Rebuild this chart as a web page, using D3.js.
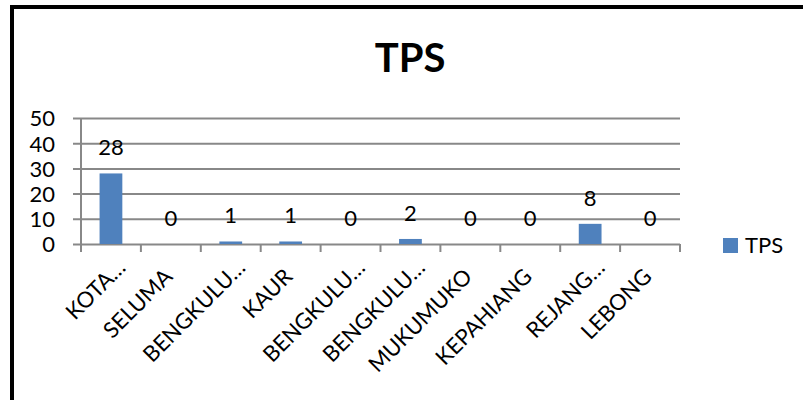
<!DOCTYPE html>
<html>
<head>
<meta charset="utf-8">
<script src="https://cdn.jsdelivr.net/npm/d3@7"></script>
<style>
  body { margin: 0; background: #fff; }
  text { font-family: Lato, "Open Sans", sans-serif; fill: #000; }
</style>
</head>
<body>
<script>
// chart values
var categories = ["KOTA…", "SELUMA", "BENGKULU…", "KAUR", "BENGKULU…",
    "BENGKULU…", "MUKUMUKO", "KEPAHIANG", "REJANG…", "LEBONG"];
var tpsValues = [28, 0, 1, 1, 0, 2, 0, 0, 8, 0];
var yTicks = [0, 10, 20, 30, 40, 50];
var seriesName = "TPS";

var width = 803, height = 400;
var plot = { left: 81, right: 680, top: 118, bottom: 244 };
var fontSize = "22px";

var svg = d3.select("body").append("svg")
    .attr("width", width)
    .attr("height", height);

svg.append("rect").attr("width", width).attr("height", height).attr("fill", "#fff");

// outer frame (only left and top show in the crop)
svg.append("path")
    .attr("d", "M12,400 V7 H803")
    .attr("fill", "none")
    .attr("stroke", "#000")
    .attr("stroke-width", 4);

var x = d3.scaleBand()
    .domain(categories.map(function (d, i) { return i; }))
    .range([plot.left, plot.right])
    .paddingInner(0.62)
    .paddingOuter(0.31);

var xTicks = d3.scaleLinear().domain([0, categories.length]).range([plot.left, plot.right]);

var y = d3.scaleLinear().domain([0, 50]).range([plot.bottom, plot.top]);

// title
svg.append("text")
    .attr("x", 410)
    .attr("y", 72)
    .attr("text-anchor", "middle")
    .style("font-size", "40px")
    .style("font-weight", "bold")
    .text(seriesName);

// gridlines + y axis
var yAxis = svg.append("g")
    .attr("transform", "translate(" + plot.left + ",0)")
    .call(d3.axisLeft(y).tickValues(yTicks)
        .tickSize(-(plot.right - plot.left))
        .tickPadding(0));
yAxis.select(".domain").remove();
yAxis.selectAll(".tick line")
    .attr("x1", -8)
    .attr("stroke", "#888")
    .attr("stroke-width", 2);
yAxis.selectAll(".tick text")
    .attr("x", -26)
    .attr("dy", "0.36em")
    .style("font-size", fontSize)
    .style("font-family", "Lato, sans-serif");

// vertical axis line
svg.append("line")
    .attr("x1", plot.left).attr("x2", plot.left)
    .attr("y1", plot.top).attr("y2", plot.bottom)
    .attr("stroke", "#888").attr("stroke-width", 2);

// category ticks on x axis
svg.append("g").selectAll("line")
    .data(d3.range(categories.length + 1))
    .join("line")
    .attr("x1", function (d) { return xTicks(d); })
    .attr("x2", function (d) { return xTicks(d); })
    .attr("y1", plot.bottom)
    .attr("y2", plot.bottom + 8)
    .attr("stroke", "#888").attr("stroke-width", 2);

// bars
svg.append("g").selectAll("rect")
    .data(tpsValues)
    .join("rect")
    .attr("x", function (d, i) { return x(i); })
    .attr("width", x.bandwidth())
    .attr("y", function (d) { return y(d); })
    .attr("height", function (d) { return y(0) - y(d); })
    .attr("fill", "#4F81BD");

// data labels
svg.append("g").selectAll("text")
    .data(tpsValues)
    .join("text")
    .attr("x", function (d, i) { return x(i) + x.bandwidth() / 2; })
    .attr("y", function (d) { return y(d) - 18; })
    .attr("text-anchor", "middle")
    .style("font-size", fontSize)
    .text(function (d) { return d; });

// rotated category labels (truncated ones sit a bit further along)
svg.append("g").selectAll("text")
    .data(categories)
    .join("text")
    .attr("text-anchor", "end")
    .attr("transform", function (d, i) {
        var cx = x(i) + x.bandwidth() / 2;
        var cut = d.slice(-1) === "…";
        var dx = cut ? 16 : 3, dy = cut ? 25 : 34;
        return "translate(" + (cx + dx) + "," + (plot.bottom + dy) + ") rotate(-45)";
    })
    .style("font-size", fontSize)
    .text(function (d) { return d; });

// legend
var legend = svg.append("g").attr("transform", "translate(723,238)");
legend.append("rect").attr("width", 15).attr("height", 15).attr("fill", "#4F81BD");
legend.append("text")
    .attr("x", 22).attr("y", 15)
    .style("font-size", fontSize)
    .text(seriesName);
</script>
</body>
</html>
